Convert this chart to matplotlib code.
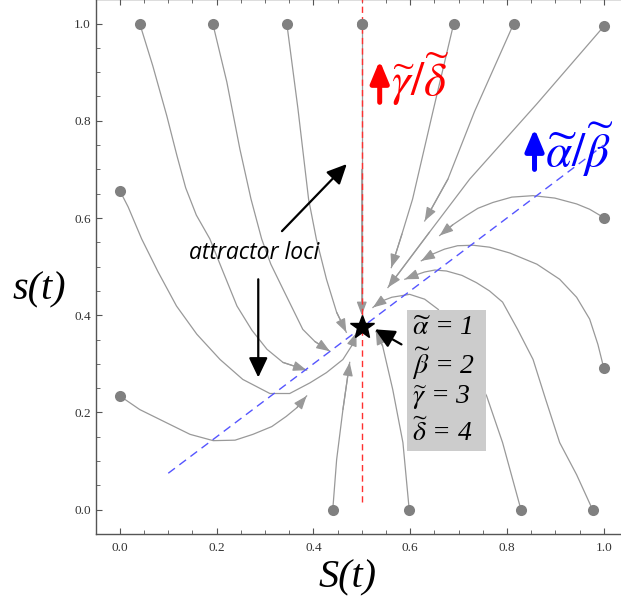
import numpy as np
import matplotlib
matplotlib.use("Agg")
import matplotlib.pyplot as plt
from matplotlib.patches import Rectangle

plt.rcParams['mathtext.fontset'] = 'stix'

# trajectories: (S, s) points, first point = start dot
t1 = [(0.041, 1.000), (0.068, 0.913), (0.097, 0.810), (0.118, 0.728), (0.136, 0.662),
      (0.158, 0.606), (0.186, 0.557), (0.211, 0.495), (0.242, 0.419), (0.273, 0.369),
      (0.304, 0.330), (0.337, 0.303), (0.386, 0.287)]
t2 = [(0.192, 1.000), (0.221, 0.880), (0.248, 0.742), (0.271, 0.639), (0.293, 0.557),
      (0.312, 0.505), (0.337, 0.454), (0.378, 0.371), (0.403, 0.346), (0.434, 0.326)]
t3 = [(0.345, 1.000), (0.368, 0.825), (0.390, 0.639), (0.406, 0.557), (0.427, 0.474),
      (0.448, 0.406), (0.468, 0.365)]
t4 = [(0.500, 1.000), (0.500, 0.700), (0.500, 0.400)]
t5 = [(0.690, 1.000), (0.647, 0.819), (0.605, 0.639), (0.583, 0.567), (0.561, 0.498)]
t6 = [(0.814, 1.000), (0.733, 0.819), (0.678, 0.680), (0.630, 0.594)]
t7 = [(1.000, 0.994), (0.862, 0.835), (0.723, 0.680), (0.640, 0.571), (0.554, 0.457)]
r1 = [(1.000, 0.601), (0.971, 0.618), (0.944, 0.629), (0.899, 0.641), (0.854, 0.646),
      (0.810, 0.643), (0.771, 0.632), (0.740, 0.620), (0.716, 0.605), (0.688, 0.586),
      (0.661, 0.564)]
r2 = [(1.000, 0.292), (0.988, 0.340), (0.971, 0.392), (0.944, 0.437), (0.909, 0.474),
      (0.862, 0.505), (0.806, 0.528), (0.764, 0.540), (0.730, 0.544), (0.698, 0.543),
      (0.671, 0.536), (0.647, 0.526), (0.623, 0.512)]
b4 = [(0.977, 0.000), (0.944, 0.072), (0.909, 0.138), (0.880, 0.227), (0.854, 0.309),
      (0.822, 0.371), (0.791, 0.427), (0.764, 0.450), (0.737, 0.467), (0.707, 0.482),
      (0.675, 0.491), (0.651, 0.493), (0.630, 0.489), (0.609, 0.482), (0.589, 0.474)]
b3 = [(0.829, 0.000), (0.791, 0.138), (0.758, 0.234), (0.707, 0.330), (0.658, 0.412),
      (0.630, 0.433), (0.599, 0.443), (0.562, 0.437), (0.541, 0.429), (0.523, 0.416)]
b2 = [(0.598, 0.000), (0.585, 0.138), (0.564, 0.247), (0.543, 0.337), (0.529, 0.367)]
b1 = [(0.440, 0.000), (0.448, 0.103), (0.461, 0.206), (0.475, 0.303)]
l1 = [(0.000, 0.656), (0.017, 0.623), (0.045, 0.557), (0.079, 0.489), (0.117, 0.419),
      (0.159, 0.361), (0.207, 0.309), (0.254, 0.268), (0.310, 0.239), (0.351, 0.239),
      (0.393, 0.261), (0.427, 0.282), (0.461, 0.309), (0.479, 0.337), (0.489, 0.364)]
l2 = [(0.000, 0.234), (0.041, 0.206), (0.096, 0.179), (0.145, 0.155), (0.193, 0.142),
      (0.238, 0.143), (0.275, 0.155), (0.314, 0.171), (0.344, 0.192), (0.366, 0.210),
      (0.386, 0.234)]
trajs = [t1, t2, t3, t4, t5, t6, t7, r1, r2, b4, b3, b2, b1, l1, l2]

star = (0.5, 0.375)
blue_S = [0.1, 1.0]
blue_s = [0.075, 0.75]
red_S = [0.5, 0.5]
red_s = [0.015, 1.05]

params = [r'$\widetilde{\alpha}$ = 1', r'$\widetilde{\beta}$ = 2',
          r'$\widetilde{\gamma}$ = 3', r'$\widetilde{\delta}$ = 4']

ticks = [0.0, 0.2, 0.4, 0.6, 0.8, 1.0]
tick_labels = ['0.0', '0.2', '0.4', '0.6', '0.8', '1.0']

gray = '#999999'
dotc = '#808080'

fig = plt.figure(figsize=(6.21, 6.10), dpi=100)
ax = fig.add_axes([0.1541, 0.1246, 0.857, 0.8766])
ax.set_xlim(-0.05, 1.05)
ax.set_ylim(-0.05, 1.05)

for tr in trajs:
    xs = [p[0] for p in tr]
    ys = [p[1] for p in tr]
    ax.plot(xs, ys, color=gray, lw=0.9, zorder=2, solid_joinstyle='round')
    ax.annotate('', xy=tr[-1], xytext=tr[-2],
                arrowprops=dict(arrowstyle='-|>,head_length=0.45,head_width=0.17',
                                mutation_scale=18, color=gray, lw=0.9,
                                shrinkA=0, shrinkB=0), zorder=2)
    ax.plot(xs[0], ys[0], 'o', color=dotc, ms=8, mec='none', zorder=4)

ax.plot(blue_S, blue_s, color='#5555ff', lw=1, dashes=(6, 4), zorder=3)
ax.plot(red_S, red_s, color='#ff3030', lw=1, dashes=(4.5, 3), zorder=3)
ax.plot(*t4[0], 'o', color=dotc, ms=8, mec='none', zorder=4)

# parameter box
ax.add_patch(Rectangle((0.594, 0.121), 0.162, 0.289, facecolor='#cccccc',
                       edgecolor='none', zorder=5))
for i, p in enumerate(params):
    ax.text(0.603, 0.372 - i * 0.071, p, fontsize=20, va='center', ha='left',
            family='Liberation Serif', style='italic', zorder=6)

ax.plot(*star, marker='*', color='black', ms=18, mec='black', zorder=7)

# annotation arrows
blk = dict(arrowstyle='-|>,head_length=0.8,head_width=0.38', mutation_scale=15,
           color='black', lw=1.6, shrinkA=0, shrinkB=0)
ax.annotate('', xy=(0.469, 0.711), xytext=(0.335, 0.573), arrowprops=blk, zorder=7)
ax.annotate('', xy=(0.286, 0.272), xytext=(0.286, 0.474), arrowprops=blk, zorder=7)
ax.annotate('', xy=(0.527, 0.371), xytext=(0.582, 0.340), arrowprops=blk, zorder=7)

ax.text(0.278, 0.528, 'attractor loci', fontsize=16.5, family='Open Sans',
        style='italic', ha='center', va='center', zorder=7)

# thick "increase" arrows next to the ratio labels
up = dict(arrowstyle='-|>,head_length=1.2,head_width=0.5', mutation_scale=11,
          lw=3.6, shrinkA=0, shrinkB=0)
ax.annotate('', xy=(0.537, 0.924), xytext=(0.537, 0.838),
            arrowprops=dict(up, color='#ff0000'), zorder=7)
ax.annotate('', xy=(0.857, 0.784), xytext=(0.857, 0.700),
            arrowprops=dict(up, color='#0000ff'), zorder=7)
ax.text(0.560, 0.885, r'$\widetilde{\gamma}/\widetilde{\delta}$', color='#ff0000',
        fontsize=34, ha='left', va='center', zorder=7)
ax.text(0.878, 0.740, r'$\widetilde{\alpha}/\widetilde{\beta}$', color='#0000ff',
        fontsize=34, ha='left', va='center', zorder=7)

# frame and ticks
for sp in ax.spines.values():
    sp.set_color('#555555')
    sp.set_linewidth(1)
ax.set_xticks(ticks)
ax.set_xticklabels(tick_labels)
ax.set_yticks(ticks)
ax.set_yticklabels(tick_labels)
ax.set_xticks(np.arange(-0.05, 1.06, 0.05), minor=True)
ax.set_yticks(np.arange(-0.05, 1.06, 0.05), minor=True)
ax.tick_params(which='both', direction='in', top=True, right=True, color='#555555',
               labelsize=9.5, labelcolor='#333333')
ax.tick_params(which='major', length=4.5)
ax.tick_params(which='minor', length=2.8)
ax.tick_params(axis='x', pad=6)
ax.tick_params(axis='y', pad=3.5)
for lb in ax.get_xticklabels() + ax.get_yticklabels():
    lb.set_family('Liberation Serif')

fig.text(0.560, 0.052, 'S(t)', fontsize=29, family='Liberation Serif', style='italic',
         ha='center', va='center')
fig.text(0.064, 0.525, 's(t)', fontsize=29, family='Liberation Serif', style='italic',
         ha='center', va='center')

fig.savefig('out.png', dpi=100)
